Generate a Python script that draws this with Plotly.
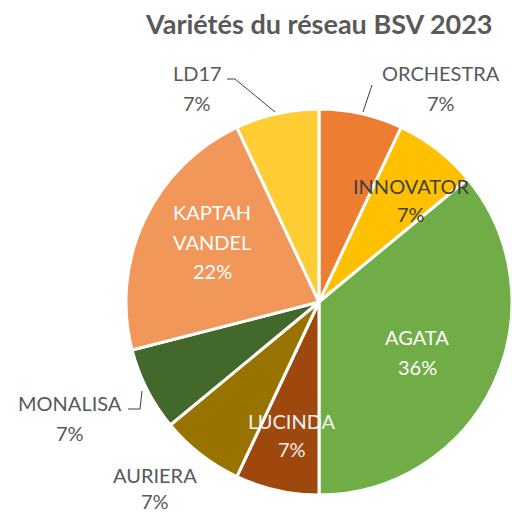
import plotly.graph_objects as go

labels = ["ORCHESTRA", "INNOVATOR", "AGATA", "LUCINDA", "AURIERA", "MONALISA", "KAPTAH VANDEL", "LD17"]
shares = [7, 7, 36, 7, 7, 7, 22, 7]
colors = ["#ED7D31", "#FFC000", "#70AD47", "#9E480E", "#997300", "#43682B", "#F1975A", "#FFCD33"]

# label placement: lines of the name, (x, y of each line incl. the % line), text colour
label_text = {
    "ORCHESTRA": (["ORCHESTRA"], 441, [72.5, 102], "#595959"),
    "INNOVATOR": (["INNOVATOR"], 411, [185.5, 213], "#404040"),
    "AGATA": (["AGATA"], 417, [336, 366], "#FFFFFF"),
    "LUCINDA": (["LUCINDA"], 292, [420, 448], "#F2F2F2"),
    "AURIERA": (["AURIERA"], 155, [474, 500.5], "#595959"),
    "MONALISA": (["MONALISA"], 70, [402, 432], "#595959"),
    "KAPTAH VANDEL": (["KAPTAH", "VANDEL"], 212, [211, 241, 270], "#FFFFFF"),
    "LD17": (["LD17"], 197, [72.5, 102], "#595959"),
}

W = H = 512
FONT = "Lato, Open Sans, sans-serif"
total = sum(shares)
CX, CY, R = 319, 302, 193

fig = go.Figure(go.Pie(
    labels=labels,
    values=shares,
    marker=dict(colors=colors, line=dict(color="white", width=3)),
    sort=False,
    direction="clockwise",
    rotation=0,
    textinfo="none",
    hoverinfo="label+percent",
    domain=dict(x=[(CX - R) / W, min(1.0, (CX + R) / W)],
                y=[1 - (CY + R) / H, 1 - (CY - R) / H]),
    showlegend=False,
))

TEXT_DY = 0.5  # shift from caps centre to annotation box centre

annotations = []
for lab, v in zip(labels, shares):
    lines, px, ys, col = label_text[lab]
    pct = round(100 * v / total)
    for line, py in zip(lines + [f"{pct}%"], ys):
        annotations.append(dict(
            text=line, x=px / W, y=1 - (py + TEXT_DY) / H, xref="paper", yref="paper",
            showarrow=False, xanchor="center", yanchor="middle",
            font=dict(family=FONT, size=20, color=col),
        ))

annotations.append(dict(
    text="<b>Variétés du réseau BSV 2023</b>", x=318.5 / W, y=1 - 23.5 / H,
    xref="paper", yref="paper", showarrow=False, xanchor="center", yanchor="middle",
    font=dict(family=FONT, size=27, color="#595959"),
))

def seg(pts):
    path = "M " + " L ".join(f"{x / W},{1 - y / H}" for x, y in pts)
    return dict(type="path", path=path, xref="paper", yref="paper",
                line=dict(color="#404040", width=1))

shapes = [
    seg([(372, 85), (363, 112)]),
    seg([(227, 79), (235, 79), (275, 112)]),
    seg([(128, 409), (140, 409), (142, 391)]),
]

fig.update_layout(
    width=W, height=H,
    margin=dict(l=0, r=0, t=0, b=0),
    paper_bgcolor="white", plot_bgcolor="white",
    annotations=annotations, shapes=shapes,
)

fig.write_html(
    "out.html",
    config={"displayModeBar": False},
    post_script="document.body.style.margin='0';document.body.style.overflow='hidden';",
)
